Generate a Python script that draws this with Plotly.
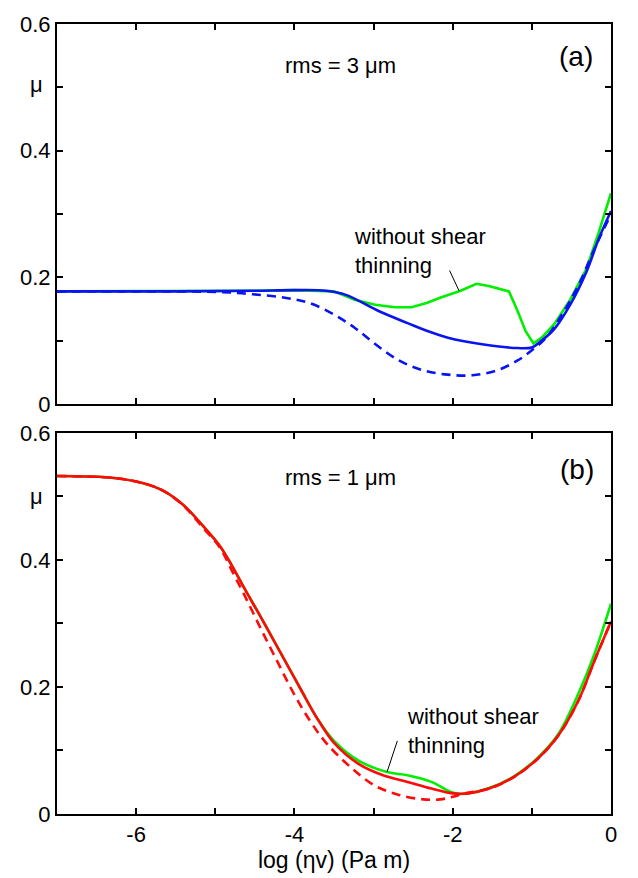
import plotly.graph_objects as go

# ---------- data: panel (a), rms = 3 um ----------
a_solid_x = [-7.0, -5.5, -4.5, -4.0, -3.6, -3.35, -2.93, -2.57, -2.32, -2.06, -1.65, -1.18, -1.0, -0.88, -0.72, -0.515, -0.31, -0.155, 0.0]
a_solid_y = [0.178, 0.178, 0.179, 0.180, 0.179, 0.1725, 0.1466, 0.128, 0.1155, 0.105, 0.095, 0.0886, 0.0896, 0.100, 0.118, 0.157, 0.209, 0.261, 0.305]

a_green_x = [-7.0, -5.5, -4.5, -4.0, -3.5, -3.24, -2.98, -2.73, -2.52, -2.32, -2.16, -1.9, -1.70, -1.545, -1.34, -1.29, -1.18, -1.08, -0.98, -0.875, -0.72, -0.515, -0.31, -0.155, 0.0]
a_green_y = [0.178, 0.178, 0.179, 0.180, 0.178, 0.165, 0.157, 0.153, 0.153, 0.160, 0.168, 0.179, 0.190, 0.1865, 0.180, 0.178, 0.147, 0.1155, 0.096, 0.105, 0.126, 0.165, 0.214, 0.271, 0.333]

a_dash_x = [-7.0, -6.0, -4.94, -4.53, -4.12, -3.81, -3.5, -3.24, -2.98, -2.68, -2.37, -2.06, -1.75, -1.44, -1.18, -0.98, -0.82, -0.62, -0.41, -0.21, 0.0]
a_dash_y = [0.178, 0.178, 0.177, 0.1736, 0.168, 0.1596, 0.1415, 0.1207, 0.095, 0.069, 0.0534, 0.0466, 0.0456, 0.0534, 0.069, 0.087, 0.105, 0.1415, 0.188, 0.245, 0.300]

# ---------- data: panel (b), rms = 1 um ----------
b_solid_x = [-7.0, -6.28, -5.92, -5.66, -5.4, -5.15, -4.94, -4.79, -4.63, -4.43, -4.22, -4.07, -3.91, -3.71, -3.5, -3.19, -2.88, -2.57, -2.27, -2.0, -1.80, -1.54, -1.23, -0.93, -0.67, -0.41, -0.21, 0.0]
b_solid_y = [0.532, 0.529, 0.521, 0.509, 0.486, 0.4526, 0.4216, 0.391, 0.3546, 0.311, 0.264, 0.230, 0.194, 0.150, 0.112, 0.079, 0.061, 0.0505, 0.040, 0.0325, 0.0325, 0.040, 0.058, 0.0866, 0.1227, 0.179, 0.241, 0.303]

b_green_x = [-7.0, -6.28, -5.92, -5.66, -5.4, -5.15, -4.94, -4.79, -4.63, -4.43, -4.22, -4.07, -3.91, -3.71, -3.5, -3.19, -2.83, -2.57, -2.27, -2.03, -1.9, -1.54, -1.23, -0.93, -0.67, -0.41, -0.21, 0.0]
b_green_y = [0.532, 0.529, 0.521, 0.509, 0.486, 0.4526, 0.4216, 0.391, 0.3546, 0.311, 0.264, 0.230, 0.194, 0.150, 0.115, 0.084, 0.066, 0.061, 0.0505, 0.035, 0.0314, 0.041, 0.059, 0.088, 0.125, 0.19, 0.2515, 0.331]

b_dash_x = [-7.0, -6.28, -5.92, -5.66, -5.4, -5.15, -4.94, -4.79, -4.63, -4.43, -4.22, -4.01, -3.81, -3.6, -3.29, -2.99, -2.68, -2.37, -2.16, -2.0, -1.85, -1.54, -1.23, -0.93, -0.67, -0.41, -0.21, 0.0]
b_dash_y = [0.532, 0.529, 0.521, 0.509, 0.485, 0.450, 0.419, 0.383, 0.344, 0.293, 0.241, 0.190, 0.148, 0.112, 0.0737, 0.045, 0.030, 0.023, 0.023, 0.027, 0.0325, 0.040, 0.058, 0.0866, 0.1227, 0.179, 0.241, 0.303]

y_tickvals = [0, 0.1, 0.2, 0.3, 0.4, 0.5, 0.6]
y_ticktext = ["0", "", "0.2", "", "0.4", "", "0.6"]
x_tickvals = [-7, -6, -5, -4, -3, -2, -1, 0]
x_ticktext = ["", "-6", "", "-4", "", "-2", "", "0"]

GREEN = "#00ee00"
BLUE = "#0a14f0"
RED = "#ff0a0a"
LW = 2.6
FONT = "Liberation Sans, Arial, Helvetica, sans-serif"

fig = go.Figure()

# panel (a) on x/y (top)
fig.add_trace(go.Scatter(x=a_green_x, y=a_green_y, mode="lines", line=dict(color=GREEN, width=LW), xaxis="x", yaxis="y"))
fig.add_trace(go.Scatter(x=a_dash_x, y=a_dash_y, mode="lines", line=dict(color=BLUE, width=LW, dash="9px,6px"), line_shape="spline", xaxis="x", yaxis="y"))
fig.add_trace(go.Scatter(x=a_solid_x, y=a_solid_y, mode="lines", line=dict(color=BLUE, width=LW), line_shape="spline", xaxis="x", yaxis="y"))

# panel (b) on x2/y2 (bottom)
fig.add_trace(go.Scatter(x=b_green_x, y=b_green_y, mode="lines", line=dict(color=GREEN, width=LW), line_shape="spline", xaxis="x2", yaxis="y2"))
fig.add_trace(go.Scatter(x=b_dash_x, y=b_dash_y, mode="lines", line=dict(color=RED, width=LW, dash="9px,6px"), line_shape="spline", xaxis="x2", yaxis="y2"))
fig.add_trace(go.Scatter(x=b_solid_x, y=b_solid_y, mode="lines", line=dict(color=RED, width=LW), line_shape="spline", xaxis="x2", yaxis="y2"))

axis_common = dict(
    showline=True, linecolor="black", linewidth=2, mirror="allticks",
    ticks="inside", ticklen=6, tickwidth=1.5, tickcolor="black",
    showgrid=False, zeroline=False,
    tickfont=dict(family=FONT, size=22, color="black"),
)

fig.update_layout(
    width=638, height=878,
    margin=dict(l=57, r=27, t=15, b=62),
    paper_bgcolor="white", plot_bgcolor="white",
    showlegend=False,
    font=dict(family=FONT, color="black"),
    xaxis=dict(domain=[0, 1], range=[-7, 0], tickvals=x_tickvals, showticklabels=False, anchor="y", **axis_common),
    yaxis=dict(domain=[0.51875, 1], range=[0, 0.6], tickvals=y_tickvals, ticktext=y_ticktext, anchor="x", **axis_common),
    xaxis2=dict(domain=[0, 1], range=[-7, 0], tickvals=x_tickvals, ticktext=x_ticktext, anchor="y2",
                title=dict(text="log (ηv) (Pa m)", font=dict(family=FONT, size=23), standoff=2), **axis_common),
    yaxis2=dict(domain=[0, 0.4825], range=[0, 0.6], tickvals=y_tickvals, ticktext=y_ticktext, anchor="x2", **axis_common),
)

ann_font = dict(family=FONT, size=22, color="black")
label_font = dict(family=FONT, size=28, color="black")
mu_font = dict(family=FONT, size=22, color="black")
annotations = [
    dict(text="rms = 3 μm", x=-3.42, y=0.535, xref="x", yref="y", showarrow=False, font=ann_font),
    dict(text="(a)", x=-0.44, y=0.549, xref="x", yref="y", showarrow=False, font=label_font),
    dict(text="without shear<br>thinning", x=-3.27, y=0.2415, xref="x", yref="y", showarrow=False, xanchor="left", align="left", font=ann_font),
    dict(text="rms = 1 μm", x=-3.42, y=0.53, xref="x2", yref="y2", showarrow=False, font=ann_font),
    dict(text="(b)", x=-0.43, y=0.543, xref="x2", yref="y2", showarrow=False, font=label_font),
    dict(text="without shear<br>thinning", x=-2.6, y=0.1306, xref="x2", yref="y2", showarrow=False, xanchor="left", align="left", font=ann_font),
    dict(text="μ", x=-0.052, y=0.505, xref="paper", yref="y", showarrow=False, font=mu_font),
    dict(text="μ", x=-0.052, y=0.50, xref="paper", yref="y2", showarrow=False, font=mu_font),
]
fig.update_layout(annotations=annotations)

# pointer lines
fig.add_shape(type="line", x0=-2.04, y0=0.211, x1=-1.92, y1=0.179, xref="x", yref="y", line=dict(color="black", width=1))
fig.add_shape(type="line", x0=-2.70, y0=0.115, x1=-2.83, y1=0.066, xref="x2", yref="y2", line=dict(color="black", width=1))

fig.write_html("out.html")
